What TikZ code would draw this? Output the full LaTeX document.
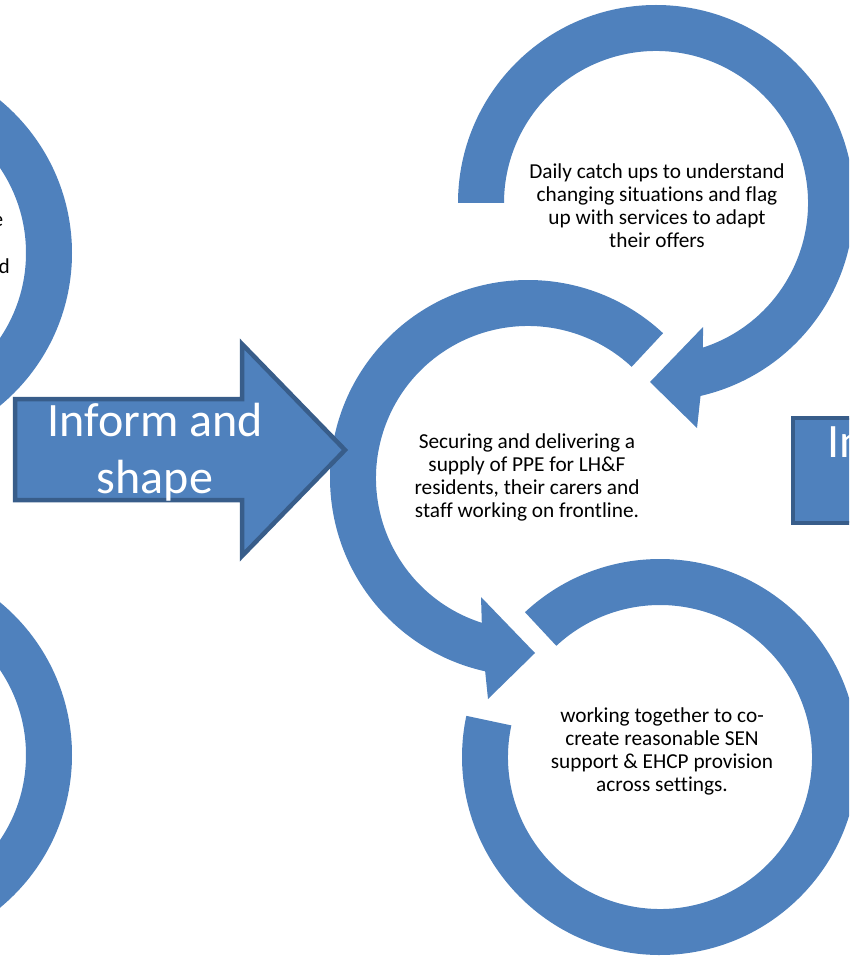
\documentclass[tikz,border=0pt]{standalone}
\usepackage{fontspec}
\setmainfont{Carlito}[Ligatures=NoCommon]
\definecolor{accent}{HTML}{4F81BD}
\definecolor{accentdark}{HTML}{385D8A}
\tikzset{
  ringarrow/.style={fill=accent},
  blockarrow/.style={draw=accentdark, line width=4.5pt, fill=accent, line join=miter},
  ringtext/.style={align=center, font=\fontsize{21.3}{23}\selectfont, text=black, inner sep=0pt},
  arrowtext/.style={align=center, font=\fontsize{48}{57}\selectfont, text=white, inner sep=0pt}
}

\begin{document}
\begin{tikzpicture}[x=1pt, y=-1pt]
  \useasboundingbox (0,0) rectangle (849,957);
  \clip (0,0) rectangle (849,957);
  \coordinate (leftupc) at (-126,253);
  \coordinate (leftlowc) at (-126,755);
  \coordinate (topc) at (656,203);
  \coordinate (midc) at (528,478);
  \coordinate (botc) at (660,757);
  % rings cut off on the left
  \fill[ringarrow, shift={(leftupc)}] (-90:198) arc[start angle=-90, end angle=90, radius=198]
    -- (90:152) arc[start angle=90, end angle=-90, radius=152] -- cycle;
  \fill[ringarrow, shift={(leftlowc)}] (-90:198) arc[start angle=-90, end angle=90, radius=198]
    -- (90:152) arc[start angle=90, end angle=-90, radius=152] -- cycle;
  \node[ringtext, anchor=base east] (leftupa) at (3.5,227) {e};
  \node[ringtext, anchor=base east] (leftupb) at (10,273) {d};
  % circular arrows
  \fill[ringarrow, shift={(topc)}] (180:198) arc[start angle=180, end angle=437, radius=198]
    -- (41,225) -- (-6,179) -- (47,124)
    -- (432:152) arc[start angle=432, end angle=180, radius=152] -- cycle;
  \fill[ringarrow, shift={(midc)}] (313:198) arc[start angle=313, end angle=102.5, radius=198]
    -- (-40,221) -- (7,175) -- (-47,119)
    -- (107.7:152) arc[start angle=107.7, end angle=313, radius=152] -- cycle;
  \fill[ringarrow, shift={(botc)}] (227:198) arc[start angle=227, end angle=552, radius=198]
    -- (552:152) arc[start angle=552, end angle=227, radius=152] -- cycle;
  \node[ringtext] (daily) at (657,206) {Daily catch ups to understand\\changing situations and flag\\up with services to adapt\\their offers};
  \node[ringtext] (ppe) at (527,477) {Securing and delivering a\\supply of PPE for LH\&F\\residents, their carers and\\staff working on frontline.};
  \node[ringtext] (sen) at (662,751) {working together to co-\\create reasonable SEN\\support \& EHCP provision\\across settings.};
  % block arrows
  \draw[blockarrow] (15,399) -- (242,399) -- (242,344) -- (345,450) -- (242,556) -- (242,500) -- (15,500) -- cycle;
  \node[arrowtext] (inform) at (155,452) {Inform and\\shape};
  \draw[blockarrow] (793,418) rectangle (890,523);
  \node[arrowtext, anchor=base west] (involve) at (827,457) {In};
\end{tikzpicture}
\end{document}
